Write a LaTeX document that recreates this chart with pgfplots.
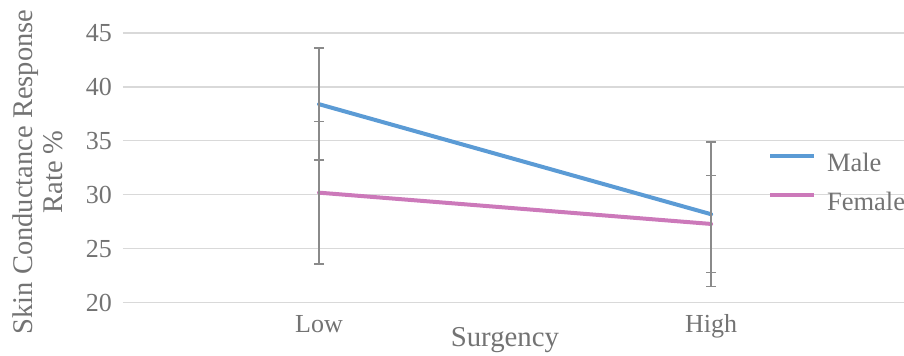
\documentclass[border=0pt]{standalone}
\usepackage{pgfplots}
\pgfplotsset{compat=1.18}
\usepackage{fontspec}
\setmainfont{Liberation Serif}
\definecolor{txt}{HTML}{737373}
\definecolor{gridc}{HTML}{D9D9D9}
\definecolor{male}{HTML}{5B9BD5}
\definecolor{female}{HTML}{CC79BA}
\definecolor{err}{HTML}{8A8A8A}
\begin{document}
\begin{tikzpicture}
\begin{axis}[
  scale only axis, width=781bp, height=269.7bp,
  xmin=-0.5, xmax=1.492, ymin=20, ymax=45,
  xtick={0,1}, xticklabels={Low,High},
  ytick={20,25,30,35,40,45},
  ymajorgrids, grid style={gridc, line width=1.2bp},
  axis line style={draw=none},
  major tick length=0pt,
  /pgf/number format/assume math mode=true,
  yticklabel style={font=\fontsize{26bp}{30bp}\selectfont, text=txt, inner sep=0pt, anchor=east, xshift=-11bp},
  xticklabel style={font=\fontsize{26bp}{30bp}\selectfont, text=txt, inner sep=0pt, anchor=base, yshift=-30bp},
  xlabel={Surgency},
  xlabel style={at={(axis description cs:0.489,0)}, anchor=base, yshift=-44bp, font=\fontsize{28.8bp}{30bp}\selectfont, text=txt, inner sep=0pt},
  ylabel={Skin Conductance Response\\Rate \%},
  ylabel style={at={([xshift=-60bp]axis description cs:0,0.4846)}, anchor=south, align=center, font=\fontsize{28.5bp}{30bp}\selectfont, text=txt, inner sep=0pt},
  legend style={at={(axis description cs:0.8259,0.5532)}, anchor=north west, draw=none, fill=none, inner sep=0pt, outer sep=0pt, row sep=20.6bp, font=\fontsize{26.5bp}{30bp}\selectfont, text=txt, nodes={inner sep=0pt, text height=18bp, text depth=0pt}, /tikz/every odd column/.append style={column sep=11bp}},
  legend cell align=left,
  legend image code/.code={\draw[#1, line cap=butt] (0bp,6bp) -- (44bp,6bp);},
]
\addplot[male, line width=4bp, line cap=round, mark=none,
  error bars/.cd, y dir=both, y explicit,
  error bar style={err, line width=1.8bp, line cap=butt},
  error mark options={err, line width=1.8bp, mark size=5bp, rotate=90}]
  coordinates {(0,38.4) +- (0,5.2) (1,28.2) +- (0,6.7)};
\addlegendentry{Male}
\addplot[female, line width=4bp, line cap=round, mark=none,
  error bars/.cd, y dir=both, y explicit,
  error bar style={err, line width=1.8bp, line cap=butt},
  error mark options={err, line width=1.8bp, mark size=5bp, rotate=90}]
  coordinates {(0,30.2) +- (0,6.6) (1,27.3) +- (0,4.5)};
\addlegendentry{Female}
\end{axis}
\pgfresetboundingbox
\path (-123bp,-53.3bp) rectangle (781bp,302.7bp);
\end{tikzpicture}
\end{document}
